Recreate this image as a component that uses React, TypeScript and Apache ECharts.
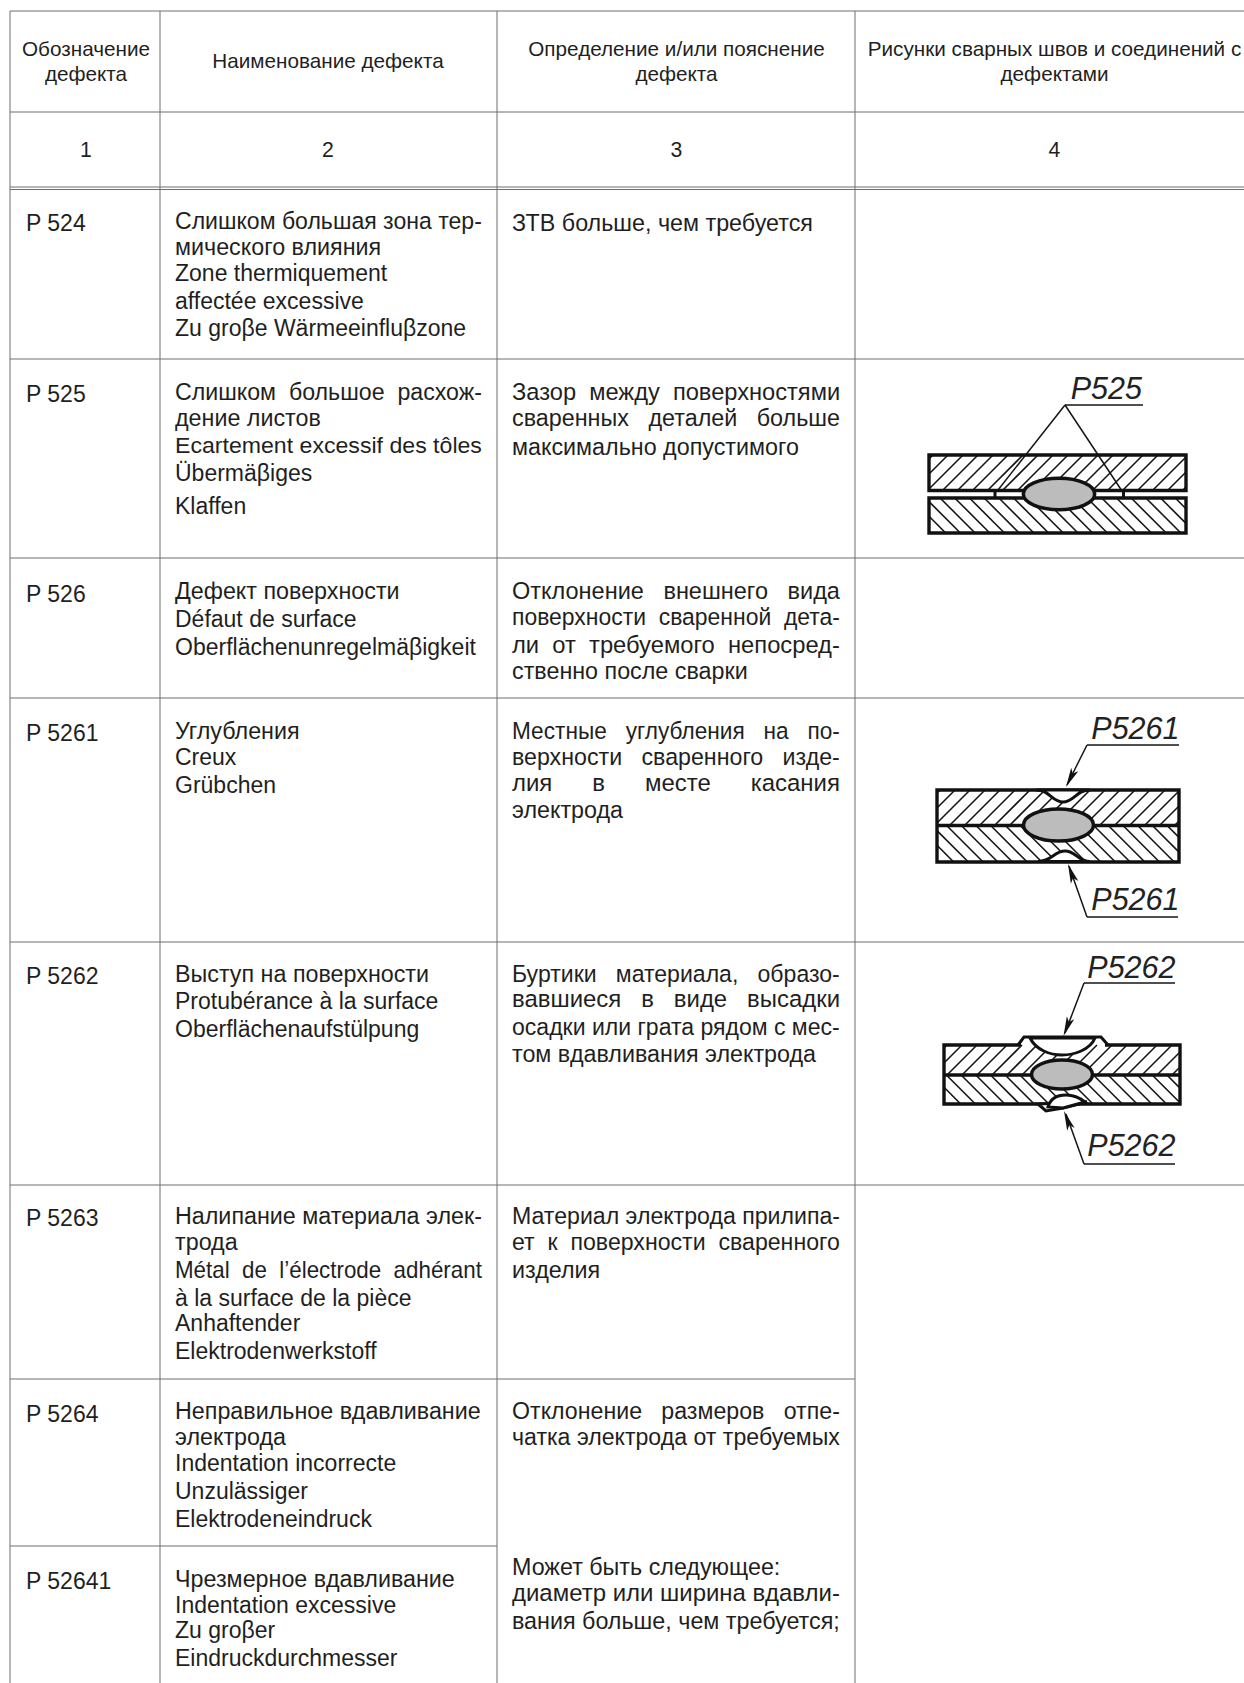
import React, { useEffect, useRef } from "react";
import * as echarts from "echarts";

const headerTexts = [
  ["Обозначение", "дефекта"],
  ["Наименование дефекта"],
  ["Определение и/или пояснение", "дефекта"],
  ["Рисунки сварных швов и соединений с", "дефектами"],
];
const columnNumbers = ["1", "2", "3", "4"];
const defectCodes = ["P 524", "P 525", "P 526", "P 5261", "P 5262", "P 5263", "P 5264", "P 52641"];
// "|" at the end of a line = justified to the column's full width
const defectNames = [
  ["Слишком большая зона тер-|", "мического влияния", "Zone thermiquement", "affectée excessive", "Zu groβe Wärmeeinfluβzone"],
  ["Слишком большое расхож-|", "дение листов", "Ecartement excessif des tôles|", "Übermäβiges", "Klaffen"],
  ["Дефект поверхности", "Défaut de surface", "Oberflächenunregelmäβigkeit"],
  ["Углубления", "Creux", "Grübchen"],
  ["Выступ на поверхности", "Protubérance à la surface", "Oberflächenaufstülpung"],
  ["Налипание материала элек-|", "трода", "Métal de l’électrode adhérant|", "à la surface de la pièce", "Anhaftender", "Elektrodenwerkstoff"],
  ["Неправильное вдавливание", "электрода", "Indentation incorrecte", "Unzulässiger", "Elektrodeneindruck"],
  ["Чрезмерное вдавливание", "Indentation excessive", "Zu groβer", "Eindruckdurchmesser"],
];
const defectDefinitions = [
  ["ЗТВ больше, чем требуется"],
  ["Зазор между поверхностями|", "сваренных деталей больше|", "максимально допустимого"],
  ["Отклонение внешнего вида|", "поверхности сваренной дета-|", "ли от требуемого непосред-|", "ственно после сварки"],
  ["Местные углубления на по-|", "верхности сваренного изде-|", "лия в месте касания|", "электрода"],
  ["Буртики материала, образо-|", "вавшиеся в виде высадки|", "осадки или грата рядом с мес-|", "том вдавливания электрода"],
  ["Материал электрода прилипа-|", "ет к поверхности сваренного|", "изделия"],
  ["Отклонение размеров отпе-|", "чатка электрода от требуемых|"],
  ["Может быть следующее:", "диаметр или ширина вдавли-|", "вания больше, чем требуется;|"],
];

// ---------- layout (page pixels) ----------
const W = 1244, H = 1683;
const S = 1244 / 1159;
const colX = [10, 160, 497, 855, W];
const ys = { top: 11, head: 112, num: 187, r: [359, 558, 698, 942, 1185, 1379, 1546] };
const codeY = [208, 367, 553, 683, 909, 1135, 1317, 1473];
const nameY = [
  [206, 230, 254, 280, 306], [365, 389, 415, 441, 471], [551, 577, 603], [681, 705, 731],
  [907, 933, 959], [1133, 1157, 1183, 1209, 1233, 1259], [1315, 1339, 1363, 1389, 1415], [1471, 1495, 1519, 1545],
];
const defY = [
  [208], [365, 389, 416], [551, 575, 601, 625], [681, 705, 730, 755],
  [907, 931, 957, 982], [1133, 1157, 1183], [1315, 1339], [1460, 1484, 1510],
];
const FF = "'Liberation Sans', Arial, sans-serif";
const INK = "#1f1f1f";
const LATIN = 23, CYR = 23.3, HEAD = 20.7;
const cv = document.createElement("canvas").getContext("2d")!;
function measure(t: string, size: number) {
  cv.font = `${size}px ${FF}`;
  return cv.measureText(t).width;
}
function txt(text: string, x: number, y: number, size: number, align = "left", extra: any = {}) {
  return { type: "text", x, y, silent: true, ...extra,
    style: { text, fontSize: size, fontFamily: FF, fill: INK, align, verticalAlign: "middle", ...(extra.style || {}) } };
}
function justified(raw: string, x: number, y: number, width: number) {
  const size = /[А-Яа-яЁё]/.test(raw) ? CYR : LATIN;
  if (!raw.endsWith("|")) return txt(raw, x, y, size);
  const t = raw.slice(0, -1);
  const nat = measure(t, size);
  const gaps = t.split(" ").length - 1;
  const sp = measure(" ", size);
  const extra = gaps ? Math.max(0, Math.round((width - nat) / gaps / sp)) : 0;
  const s = t.split(" ").join(" ".repeat(1 + extra));
  const m = measure(s, size);
  return txt(s, x, y, size, "left", { scaleX: width / m });
}
function hline(x1: number, x2: number, y: number, w = 1, c = "#6f6f6f") {
  return { type: "line", silent: true, shape: { x1, y1: y, x2, y2: y }, style: { stroke: c, lineWidth: w } };
}
function vline(x: number, y1: number, y2: number) {
  return { type: "line", silent: true, shape: { x1: x, y1, x2: x, y2 }, style: { stroke: "#6f6f6f", lineWidth: 1 } };
}
function seg(x1: number, y1: number, x2: number, y2: number, w = 1.5) {
  return { type: "line", silent: true, shape: { x1, y1, x2, y2 }, style: { stroke: "#151515", lineWidth: w } };
}
function hatch(x0: number, y0: number, x1: number, y1: number, dir: number, step: number, phase = 0) {
  const out: any[] = [];
  const h = y1 - y0;
  for (let c = x0 - h + phase; c < x1; c += step) {
    // dir 1: "/" from (c, y1) to (c+h, y0); dir -1: "\" from (c, y0) to (c+h, y1)
    let ax = c, bx = c + h, ay = dir > 0 ? y1 : y0, by = dir > 0 ? y0 : y1;
    const sl = (by - ay) / (bx - ax);
    if (ax < x0) { ay += (x0 - ax) * sl; ax = x0; }
    if (bx > x1) { by -= (bx - x1) * sl; bx = x1; }
    if (bx > ax) out.push(seg(ax, ay, bx, by, 1.6));
  }
  return out;
}
function plate(x0: number, y0: number, x1: number, y1: number) {
  return { type: "rect", silent: true, shape: { x: x0, y: y0, width: x1 - x0, height: y1 - y0 }, style: { fill: "none", stroke: "#111", lineWidth: 3.4 } };
}
function nugget(cx: number, cy: number, rx: number, ry: number) {
  return { type: "ellipse", silent: true, shape: { cx, cy, rx, ry }, style: { fill: "#bcbcbc", stroke: "#111", lineWidth: 3.5 } };
}
function blob(name: string, fill: string = "#fff", lineWidth = 3) {
  return { type: name, silent: true, style: { fill, stroke: "#111", lineWidth } };
}
function arrow(tx: number, ty: number, fx: number, fy: number) {
  const a = Math.atan2(fy - ty, fx - tx), L = 20, b = 0.2;
  return { type: "polygon", silent: true, shape: { points: [[tx, ty],
    [tx + L * Math.cos(a + b), ty + L * Math.sin(a + b)],
    [tx + L * 0.75 * Math.cos(a), ty + L * 0.75 * Math.sin(a)],
    [tx + L * Math.cos(a - b), ty + L * Math.sin(a - b)]] }, style: { fill: "#111" } };
}
function label(t: string, x2: number, cy: number) {
  return txt(t, x2, cy, 30.5, "right", { style: { fontStyle: "italic", fill: "#222" } });
}

echarts.graphic.registerShape("dent1", echarts.graphic.extendPath("M1036 790 C1050 790 1052 802 1063 802 C1074 802 1076 790 1090 790 Z", {}));
echarts.graphic.registerShape("dent2", echarts.graphic.extendPath("M1038 861.5 C1052 861.5 1054 851 1065 851 C1076 851 1078 861.5 1090 861.5 Z", {}));
echarts.graphic.registerShape("cap3", echarts.graphic.extendPath("M1018 1045 L1024 1037 L1101 1037 L1108 1045", {}));
echarts.graphic.registerShape("dent3", echarts.graphic.extendPath("M1030 1038 C1036 1050 1050 1055 1062 1055 C1074 1055 1090 1050 1095 1038 Z", {}));
echarts.graphic.registerShape("bump3", echarts.graphic.extendPath("M1038 1104 L1046 1111 L1063 1108 L1087 1102 Z", {}));
echarts.graphic.registerShape("dent4", echarts.graphic.extendPath("M1048 1107 C1050 1100 1056 1095 1066 1095 C1074 1095 1080 1098 1085 1102 L1063 1108 Z", {}));

function buildElements() {
  const els: any[] = [];
  // grid
  [ys.top, ys.head, ys.num, ys.num + 2.5, ys.r[0], ys.r[1], ys.r[2], ys.r[3], ys.r[4]].forEach((y) => els.push(hline(colX[0], W, y)));
  els.push(hline(colX[0], colX[3], ys.r[5]));
  els.push(hline(colX[0], colX[2], ys.r[6]));
  colX.slice(0, 4).forEach((x) => els.push(vline(x, ys.top, H)));
  // header
  const hc = [(colX[0] + colX[1]) / 2 + 1, (colX[1] + colX[2]) / 2 - 0.5, (colX[2] + colX[3]) / 2 + 0.5, 1054.5];
  const hY = [48, 73];
  headerTexts.forEach((lines, i) => {
    lines.forEach((l, j) => els.push(txt(l, hc[i], lines.length === 1 ? 60 : hY[j], HEAD, "center")));
  });
  columnNumbers.forEach((n, i) => els.push(txt(n, hc[i], 149.5, HEAD + 0.5, "center")));
  // body
  defectCodes.forEach((c, i) => {
    els.push(txt(c, 26, codeY[i] * S, LATIN));
    defectNames[i].forEach((l, j) => els.push(justified(l, 175, nameY[i][j] * S, 307)));
    defectDefinitions[i].forEach((l, j) => els.push(justified(l, 512, defY[i][j] * S, 328)));
  });

  // Fig. P525
  els.push(...hatch(929, 455, 1186, 490.5, 1, 15, 4), ...hatch(929, 498, 1186, 533, -1, 14.7, 2));
  els.push(seg(1065, 405, 998, 490), seg(1065, 405, 1122, 491), seg(1065, 405, 1143, 405, 1.6));
  els.push(plate(929, 455, 1186, 490.5), plate(929, 498, 1186, 533));
  els.push({ type: "rect", silent: true, shape: { x: 993.5, y: 491, width: 3, height: 7 }, style: { fill: "#111" } });
  els.push({ type: "rect", silent: true, shape: { x: 1122, y: 491, width: 3, height: 7 }, style: { fill: "#111" } });
  els.push(nugget(1059, 494, 35.7, 15.7));
  els.push(label("P525", 1142, 388));

  // Fig. P5261
  els.push(...hatch(937, 790, 1179, 825.5, 1, 15, 3), ...hatch(937, 825.5, 1179, 862, -1, 14.7, 2));
  els.push(plate(937, 790, 1179, 862), hline(937, 1179, 825.5, 3.4, "#111"));
  els.push(blob("dent1"), blob("dent2"));
  els.push(nugget(1058.5, 825, 35, 16));
  els.push(seg(1179, 745, 1087, 745, 1.6), seg(1087, 745, 1067, 785), arrow(1066, 787, 1087, 745));
  els.push(seg(1178, 917, 1087, 917, 1.6), seg(1087, 917, 1069, 866), arrow(1068, 864, 1087, 917));
  els.push(label("P5261", 1179.5, 728), label("P5261", 1179.5, 899));

  // Fig. P5262
  els.push(plate(944, 1045, 1180, 1104), hline(944, 1180, 1075, 3.4, "#111"));
  els.push(hline(1021, 1105, 1045, 4.5, "#fff"));
  els.push(...hatch(944, 1045, 1180, 1075, 1, 15, 3), ...hatch(944, 1075, 1180, 1104, -1, 14.7, 2));
  els.push(blob("cap3", "none"), blob("dent3"), blob("bump3"), blob("dent4"));
  els.push(nugget(1062, 1074.5, 30.5, 14.5));
  els.push(seg(1175, 983, 1084, 983, 1.6), seg(1084, 983, 1065, 1033), arrow(1063.5, 1036, 1084, 983));
  els.push(seg(1175, 1164, 1084, 1164, 1.6), seg(1084, 1164, 1066, 1114), arrow(1064, 1111, 1084, 1164));
  els.push(label("P5262", 1175.5, 967), label("P5262", 1175.5, 1145));
  return els;
}

export default function App() {
  const ref = useRef<HTMLDivElement>(null);
  useEffect(() => {
    document.body.style.margin = "0";
    const chart = echarts.init(ref.current!, undefined, { renderer: "svg" });
    chart.setOption({ animation: false, backgroundColor: "#fff", graphic: { elements: buildElements() } });
    return () => chart.dispose();
  }, []);
  return <div ref={ref} style={{ width: W, height: H }} />;
}
